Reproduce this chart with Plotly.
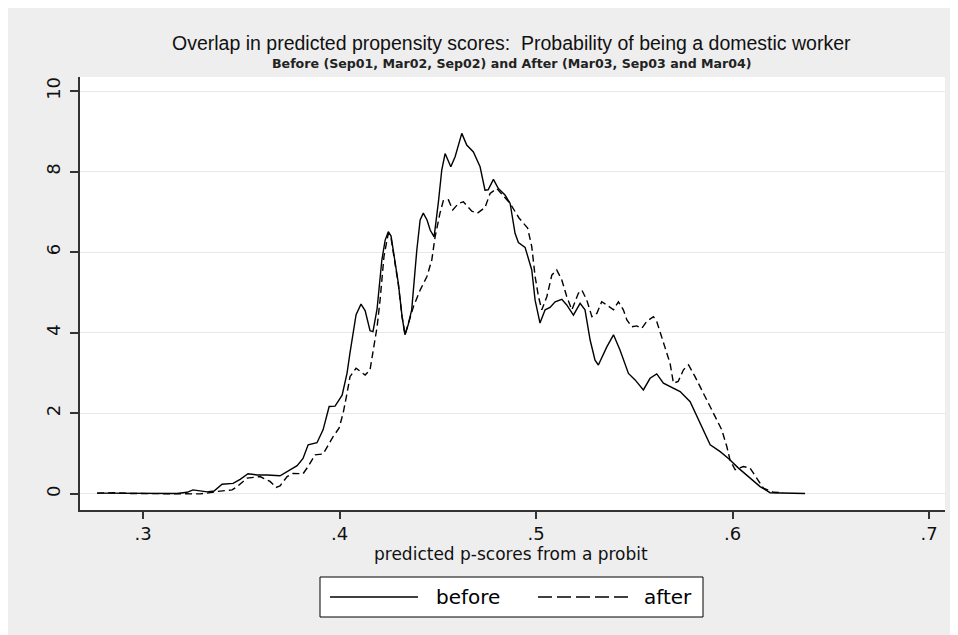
import plotly.graph_objects as go

# ---- data ----
before_x = [0.2766, 0.2883, 0.3036, 0.3173, 0.3224, 0.3254, 0.3326, 0.3361, 0.3402, 0.3458,
            0.3494, 0.3534, 0.3580, 0.3631, 0.3697, 0.3733, 0.3784, 0.3814, 0.3840, 0.3885,
            0.3916, 0.3947, 0.3977, 0.4013, 0.4038, 0.4053, 0.4069, 0.4084, 0.4109, 0.4130,
            0.4155, 0.4170, 0.4191, 0.4215, 0.4232, 0.4248, 0.4262, 0.4299, 0.4318, 0.4333,
            0.4349, 0.4367, 0.4393, 0.4410, 0.4426, 0.4445, 0.4461, 0.4481, 0.4503, 0.4520,
            0.4537, 0.4566, 0.4588, 0.4622, 0.4647, 0.4681, 0.4715, 0.4740, 0.4756, 0.4783,
            0.4808, 0.4842, 0.4868, 0.4893, 0.4910, 0.4944, 0.4978, 0.4995, 0.5020, 0.5046,
            0.5071, 0.5097, 0.5131, 0.5156, 0.5190, 0.5224, 0.5249, 0.5275, 0.5300, 0.5317,
            0.5360, 0.5394, 0.5427, 0.5470, 0.5504, 0.5546, 0.5580, 0.5614, 0.5648, 0.5682,
            0.5733, 0.5784, 0.5835, 0.5886, 0.5937, 0.5979, 0.6030, 0.6089, 0.6140, 0.6191,
            0.6293, 0.6369]
before_y = [0.02, 0.02, 0.01, 0.01, 0.04, 0.10, 0.05, 0.07, 0.24, 0.26,
            0.36, 0.50, 0.47, 0.47, 0.45, 0.55, 0.70, 0.88, 1.22, 1.27,
            1.59, 2.17, 2.18, 2.45, 3.00, 3.50, 4.00, 4.45, 4.71, 4.55,
            4.05, 4.03, 4.60, 5.80, 6.30, 6.51, 6.40, 5.23, 4.40, 3.95,
            4.20, 4.57, 6.05, 6.80, 6.97, 6.80, 6.55, 6.38, 7.25, 8.04,
            8.45, 8.12, 8.37, 8.95, 8.66, 8.49, 8.12, 7.54, 7.55, 7.81,
            7.58, 7.42, 7.21, 6.47, 6.24, 6.12, 5.56, 4.81, 4.24, 4.57,
            4.63, 4.77, 4.83, 4.69, 4.44, 4.73, 4.57, 3.82, 3.32, 3.20,
            3.65, 3.95, 3.57, 2.99, 2.83, 2.58, 2.87, 2.98, 2.75, 2.66,
            2.54, 2.29, 1.75, 1.22, 1.05, 0.88, 0.64, 0.39, 0.18, 0.03,
            0.01, 0.01]

after_x = [0.2766, 0.2858, 0.2934, 0.3087, 0.3224, 0.3290, 0.3326, 0.3377, 0.3453, 0.3478,
           0.3529, 0.3595, 0.3646, 0.3677, 0.3697, 0.3733, 0.3763, 0.3814, 0.3840, 0.3875,
           0.3916, 0.3941, 0.3967, 0.3997, 0.4018, 0.4038, 0.4053, 0.4084, 0.4130, 0.4155,
           0.4170, 0.4191, 0.4206, 0.4226, 0.4248, 0.4262, 0.4299, 0.4318, 0.4333, 0.4376,
           0.4410, 0.4444, 0.4469, 0.4486, 0.4511, 0.4528, 0.4554, 0.4576, 0.4605, 0.4630,
           0.4673, 0.4702, 0.4740, 0.4766, 0.4800, 0.4868, 0.4913, 0.4957, 0.4978, 0.4995,
           0.5012, 0.5029, 0.5055, 0.5080, 0.5105, 0.5131, 0.5156, 0.5182, 0.5215, 0.5233,
           0.5258, 0.5284, 0.5309, 0.5334, 0.5360, 0.5394, 0.5419, 0.5444, 0.5462, 0.5487,
           0.5512, 0.5538, 0.5563, 0.5597, 0.5614, 0.5640, 0.5665, 0.5682, 0.5699, 0.5723,
           0.5750, 0.5776, 0.5809, 0.5852, 0.5903, 0.5945, 0.5971, 0.5987, 0.6013, 0.6055,
           0.6089, 0.6124, 0.6157, 0.6208, 0.6257]
after_y = [0.02, 0.03, 0.01, 0.01, 0.00, 0.00, 0.02, 0.06, 0.10, 0.18,
           0.39, 0.43, 0.31, 0.16, 0.20, 0.43, 0.51, 0.50, 0.68, 0.97,
           0.99, 1.22, 1.42, 1.63, 2.00, 2.50, 2.91, 3.12, 2.95, 3.08,
           3.57, 4.15, 4.81, 5.90, 6.47, 6.35, 5.20, 4.40, 3.95, 4.65,
           5.06, 5.39, 5.80, 6.38, 6.97, 7.28, 7.30, 7.05, 7.21, 7.25,
           7.02, 6.97, 7.11, 7.46, 7.58, 7.21, 6.85, 6.60, 6.14, 5.40,
           4.90, 4.57, 4.90, 5.43, 5.56, 5.31, 4.90, 4.57, 4.98, 5.06,
           4.81, 4.40, 4.48, 4.77, 4.69, 4.57, 4.77, 4.57, 4.32, 4.15,
           4.17, 4.11, 4.28, 4.40, 4.28, 3.90, 3.53, 3.24, 2.75, 2.79,
           3.08, 3.20, 2.91, 2.50, 2.00, 1.59, 1.17, 0.84, 0.60, 0.68,
           0.64, 0.39, 0.14, 0.04, 0.03]

series_names = ["before", "after"]
series_dash = ["solid", "7px,4px"]
x_ticks = [0.3, 0.4, 0.5, 0.6, 0.7]
x_tick_labels = [".3", ".4", ".5", ".6", ".7"]
y_ticks = [0, 2, 4, 6, 8, 10]

title_main = "Overlap in predicted propensity scores:  Probability of being a domestic worker"
title_sub = "Before (Sep01, Mar02, Sep02) and After (Mar03, Sep03 and Mar04)"
x_title = "predicted p-scores from a probit"

# page body has an 8px margin, so the figure is 8px smaller than the window
OFF = 8
W, H = 950, 627
ML, MR, MT, MB = 72, 13, 69, 125
FONT = "Liberation Sans, Arial, sans-serif"
WIDE = "DejaVu Sans, sans-serif"
BG = "#eeeeee"
INK = "#111111"
plot_w = W - ML - MR
plot_h = H - MT - MB


def px(sx):
    # screen x -> paper x
    return (sx - OFF - ML) / plot_w


def py(sy):
    # screen y -> paper y
    return (H - MB - (sy - OFF)) / plot_h


fig = go.Figure()
fig.add_trace(go.Scatter(x=before_x, y=before_y, mode="lines", name=series_names[0],
                         line=dict(color="black", width=1.4, dash=series_dash[0])))
fig.add_trace(go.Scatter(x=after_x, y=after_y, mode="lines", name=series_names[1],
                         line=dict(color="black", width=1.4, dash=series_dash[1])))

# legend box drawn in paper space (Stata-style: long keys, wide gaps)
LEG_Y = 597
shapes = [
    dict(type="rect", xref="paper", yref="paper", x0=px(320), x1=px(703), y0=py(617), y1=py(577),
         fillcolor="white", line=dict(color="black", width=1)),
    dict(type="line", xref="paper", yref="paper", x0=px(330), x1=px(418), y0=py(LEG_Y), y1=py(LEG_Y),
         line=dict(color="black", width=1.4, dash=series_dash[0])),
    dict(type="line", xref="paper", yref="paper", x0=px(538), x1=px(631), y0=py(LEG_Y), y1=py(LEG_Y),
         line=dict(color="black", width=1.4, dash="14px,5px")),
]

annotations = [
    dict(text=title_main, x=px(511), y=py(43), xref="paper", yref="paper",
         xanchor="center", yanchor="middle", showarrow=False,
         font=dict(size=19.5, family=FONT, color=INK)),
    dict(text="<b>" + title_sub + "</b>", x=px(512), y=py(63), xref="paper", yref="paper",
         xanchor="center", yanchor="middle", showarrow=False,
         font=dict(size=12.6, family=WIDE, color="#222222")),
    dict(text=x_title, x=px(511), y=py(554), xref="paper", yref="paper",
         xanchor="center", yanchor="middle", showarrow=False,
         font=dict(size=17, family=WIDE, color=INK)),
    dict(text=series_names[0], x=px(434), y=py(LEG_Y), xref="paper", yref="paper",
         xanchor="left", yanchor="middle", showarrow=False,
         font=dict(size=20, family=WIDE, color="black")),
    dict(text=series_names[1], x=px(642), y=py(LEG_Y), xref="paper", yref="paper",
         xanchor="left", yanchor="middle", showarrow=False,
         font=dict(size=20, family=WIDE, color="black")),
]

fig.update_layout(
    width=W, height=H,
    margin=dict(l=ML, r=MR, t=MT, b=MB, autoexpand=False),
    paper_bgcolor=BG, plot_bgcolor="white",
    font=dict(family=FONT, color="black"),
    showlegend=False,
    xaxis=dict(range=[0.2679, 0.7081], tickvals=x_ticks, ticktext=x_tick_labels,
               showgrid=False, zeroline=False, showline=True, linecolor="#333333", linewidth=1.5,
               ticks="outside", ticklen=7, tickcolor="#333333", tickwidth=1.5,
               tickfont=dict(size=18, family=WIDE, color=INK), fixedrange=True),
    yaxis=dict(range=[-0.40, 10.35], tickvals=y_ticks, showgrid=True, gridcolor="#e8e8e8",
               gridwidth=1, zeroline=False, showline=True, linecolor="#333333", linewidth=1.5,
               ticks="outside", ticklen=8, tickcolor="#333333", tickwidth=1.5,
               ticklabelstandoff=3,
               tickangle=-90, tickfont=dict(size=18, family=WIDE, color=INK), fixedrange=True),
    shapes=shapes,
    annotations=annotations,
)

fig.write_html("out.html")
